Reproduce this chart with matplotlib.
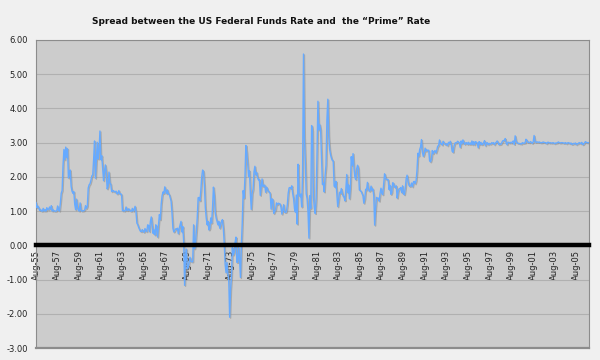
import matplotlib
matplotlib.use("Agg")
import matplotlib.pyplot as plt
import matplotlib.patheffects as pe

# spread (prime - fed funds), monthly from Aug-55 to Oct-06
spread = [
    1.25, 1.10, 1.15, 1.10, 1.02,                                          # 1955 (Aug-Dec)
    1.05, 1.00, 1.00, 1.08, 1.00, 1.04, 1.00, 1.10, 1.05, 1.04, 1.12, 1.06,  # 1956
    1.16, 1.00, 1.04, 1.00, 1.00, 1.00, 1.01, 1.15, 1.03, 1.00, 1.22, 1.52,  # 1957
    1.60, 2.33, 2.80, 2.50, 2.87, 2.57, 2.82, 1.97, 2.10, 2.20, 1.73, 1.58,  # 1958
    1.52, 1.57, 1.20, 1.04, 1.35, 1.11, 1.03, 1.00, 1.24, 1.02, 1.00, 1.01,  # 1959
    1.01, 1.03, 1.16, 1.08, 1.15, 1.68, 1.77, 1.80, 1.90, 2.03, 2.06, 2.52,  # 1960
    3.05, 1.96, 2.48, 3.01, 2.52, 2.77, 3.34, 2.50, 2.62, 2.24, 1.89, 2.17,  # 1961
    2.35, 2.13, 1.65, 1.72, 2.14, 1.82, 1.79, 1.57, 1.60, 1.60, 1.56, 1.57,  # 1962
    1.58, 1.50, 1.52, 1.60, 1.50, 1.51, 1.48, 1.01, 1.02, 1.00, 1.02, 1.12,  # 1963
    1.02, 1.02, 1.07, 1.03, 1.00, 1.00, 1.08, 1.00, 1.05, 1.14, 0.98, 0.65,  # 1964
    0.60, 0.52, 0.46, 0.41, 0.40, 0.46, 0.41, 0.38, 0.49, 0.42, 0.40, 0.60,  # 1965
    0.58, 0.40, 0.70, 0.83, 0.60, 0.35, 0.45, 0.30, 0.60, 0.47, 0.24, 0.60,  # 1966
    0.90, 0.75, 1.20, 1.45, 1.56, 1.52, 1.71, 1.60, 1.51, 1.62, 1.50, 1.49,  # 1967
    1.39, 1.29, 0.95, 0.50, 0.39, 0.43, 0.48, 0.47, 0.50, 0.34, 0.50, 0.60,  # 1968
    0.70, 0.39, 0.55, 0.09, -1.17, -0.30, -0.11, -0.69, -0.65, -0.50, -0.35, -0.47,  # 1969
    -0.48, -0.48, 0.60, -0.10, 0.05, 0.39, 0.79, 1.39, 1.40, 1.30, 1.60, 2.00,  # 1970
    2.20, 2.15, 1.75, 1.10, 0.80, 0.60, 0.70, 0.45, 0.50, 0.80, 0.65, 1.10,  # 1971
    1.70, 1.45, 0.95, 0.80, 0.70, 0.60, 0.70, 0.50, 0.60, 0.70, 0.75, 0.50,  # 1972
    0.06, -0.56, -0.80, -0.50, -0.83, -1.00, -2.10, -1.30, -0.92, -0.07, -0.28, -0.20,  # 1973
    0.08, 0.24, -0.50, -0.49, -0.06, -0.40, -0.94, 0.00, 0.66, 1.60, 1.38, 2.00,  # 1974
    2.92, 2.72, 2.39, 2.01, 2.18, 1.52, 1.05, 1.52, 1.64, 2.14, 2.31, 2.06,  # 1975
    2.13, 1.98, 1.91, 1.93, 1.46, 1.72, 1.94, 1.72, 1.75, 1.76, 1.55, 1.70,  # 1976
    1.64, 1.57, 1.56, 1.52, 1.06, 1.36, 1.33, 0.93, 0.99, 1.05, 1.24, 1.19,  # 1977
    1.23, 1.22, 1.21, 1.11, 0.91, 1.03, 1.19, 0.97, 0.96, 0.98, 1.18, 1.52,  # 1978
    1.68, 1.69, 1.66, 1.74, 1.51, 1.36, 1.07, 0.97, 1.47, 0.62, 2.37, 1.52,  # 1979
    1.43, 1.50, 1.12, 2.16, 5.59, 3.16, 2.45, 1.51, 1.36, 0.98, 0.21, 1.45,  # 1980
    1.08, 3.50, 3.35, 1.43, 1.09, 0.93, 1.35, 2.68, 4.21, 3.37, 3.53, 3.38,  # 1981
    2.53, 1.78, 1.82, 1.56, 2.05, 2.35, 3.67, 4.27, 3.19, 2.81, 2.65, 2.55,  # 1982
    2.48, 2.47, 1.73, 1.70, 1.87, 1.52, 1.13, 1.33, 1.55, 1.52, 1.66, 1.53,  # 1983
    1.44, 1.41, 1.30, 1.64, 2.07, 1.54, 1.77, 1.36, 1.67, 2.59, 2.34, 2.68,  # 1984
    2.26, 2.00, 1.92, 2.23, 2.34, 2.25, 1.62, 1.60, 1.58, 1.51, 1.45, 1.23,  # 1985
    1.36, 1.64, 1.62, 1.84, 1.65, 1.58, 1.60, 1.73, 1.61, 1.65, 1.46, 0.59,  # 1986
    1.07, 1.40, 1.37, 1.38, 1.29, 1.52, 1.67, 1.52, 1.48, 1.78, 2.09, 1.98,  # 1987
    1.92, 1.93, 1.92, 1.63, 1.75, 1.49, 1.54, 1.83, 1.81, 1.70, 1.70, 1.74,  # 1988
    1.38, 1.57, 1.65, 1.66, 1.69, 1.54, 1.74, 1.51, 1.48, 1.66, 1.95, 2.05,  # 1989
    1.88, 1.76, 1.72, 1.74, 1.82, 1.71, 1.85, 1.87, 1.80, 1.89, 2.19, 2.69,  # 1990
    2.61, 2.80, 2.88, 3.09, 2.72, 2.60, 2.68, 2.84, 2.75, 2.79, 2.77, 2.78,  # 1991
    2.47, 2.44, 2.52, 2.77, 2.68, 2.74, 2.77, 2.70, 2.78, 2.90, 2.91, 3.08,  # 1992
    2.98, 2.97, 2.93, 3.04, 3.00, 2.96, 2.94, 2.97, 2.91, 3.01, 2.98, 3.04,  # 1993
    2.95, 2.75, 2.72, 2.89, 2.98, 3.00, 2.99, 3.04, 3.02, 2.99, 2.86, 3.05,  # 1994
    2.97, 3.08, 3.02, 2.95, 2.99, 3.00, 2.95, 3.01, 2.95, 2.99, 2.95, 3.05,  # 1995
    2.94, 3.03, 2.94, 3.03, 3.01, 2.98, 2.85, 3.03, 2.95, 3.01, 2.94, 2.96,  # 1996
    3.00, 3.06, 2.91, 2.99, 3.00, 2.94, 2.98, 2.96, 2.96, 3.00, 2.98, 3.00,  # 1997
    2.94, 2.99, 3.01, 3.05, 3.01, 2.94, 2.96, 2.95, 2.99, 3.05, 3.06, 3.07,  # 1998
    3.12, 2.99, 2.94, 3.01, 3.01, 2.99, 3.01, 2.99, 3.03, 3.05, 2.95, 3.20,  # 1999
    3.05, 3.00, 2.98, 2.98, 2.97, 2.97, 2.96, 3.00, 2.98, 2.99, 2.99, 3.10,  # 2000
    3.07, 3.01, 3.01, 3.00, 3.03, 3.01, 2.98, 3.02, 3.21, 3.04, 3.01, 3.02,  # 2001
    3.02, 3.01, 3.02, 3.00, 3.00, 3.00, 3.02, 3.01, 3.00, 3.00, 2.97, 3.01,  # 2002
    3.01, 2.99, 3.00, 2.99, 2.99, 3.00, 2.99, 2.97, 2.99, 2.99, 3.00, 3.02,  # 2003
    3.00, 2.99, 3.00, 3.00, 3.00, 2.98, 2.99, 3.00, 2.97, 2.99, 3.00, 2.99,  # 2004
    2.97, 2.99, 2.95, 2.96, 2.98, 2.97, 2.99, 2.94, 2.97, 2.97, 3.00, 2.99,  # 2005
    2.97, 3.01, 2.94, 2.96, 2.99, 3.03, 3.01, 3.00, 3.00, 3.00,              # 2006 (Jan-Oct)
]

tick_labels = ["Aug-55", "Aug-57", "Aug-59", "Aug-61", "Aug-63", "Aug-65",
               "Aug-67", "Aug-69", "Aug-71", "Aug-73", "Aug-75", "Aug-77",
               "Aug-79", "Aug-81", "Aug-83", "Aug-85", "Aug-87", "Aug-89",
               "Aug-91", "Aug-93", "Aug-95", "Aug-97", "Aug-99", "Aug-01",
               "Aug-03", "Aug-05"]
y_ticks = [-3, -2, -1, 0, 1, 2, 3, 4, 5, 6]

months = list(range(len(spread)))
tick_pos = [i * 24 for i in range(len(tick_labels))]

fig = plt.figure(figsize=(6, 3.6), dpi=100, facecolor="#f0f0f0")
ax = fig.add_axes([0.06, 0.0333, 0.9217, 0.8556])
ax.set_facecolor("#cccccc")

ax.plot(months, spread, color="#66aaff", lw=1.0, zorder=3,
        path_effects=[pe.SimpleLineShadow(offset=(0.7, -0.7), shadow_color="#888888", alpha=0.5),
                      pe.Normal()])

ax.set_xlim(0, len(spread) - 1)
ax.set_ylim(-3, 6)
ax.set_yticks(y_ticks)
ax.set_yticklabels([f"{v:.2f}" for v in y_ticks])
ax.yaxis.grid(True, color="#b0b0b0", lw=0.8)
ax.set_axisbelow(True)

# category axis sits on zero as a thick black line
ax.spines["bottom"].set_position(("data", 0))
ax.spines["bottom"].set_color("black")
ax.spines["bottom"].set_linewidth(3.2)
ax.spines["bottom"].set_zorder(4)
for s in ["left", "top", "right"]:
    ax.spines[s].set_color("#8c8c8c")
    ax.spines[s].set_linewidth(0.8)
ax.axhline(-3, color="#8c8c8c", lw=1.6, clip_on=False)

ax.set_xticks(tick_pos)
ax.set_xticklabels(tick_labels, rotation=90)
ax.tick_params(axis="x", length=0, pad=3, labelsize=6, colors="#222222")
ax.tick_params(axis="y", length=0, pad=6, labelsize=6, colors="#222222")

fig.text(0.435, 0.939, "Spread between the US Federal Funds Rate and  the \u201cPrime\u201d Rate",
         ha="center", va="center", fontsize=6.5, fontweight="bold", color="#111111")

fig.savefig("out.png", dpi=100, facecolor=fig.get_facecolor())
